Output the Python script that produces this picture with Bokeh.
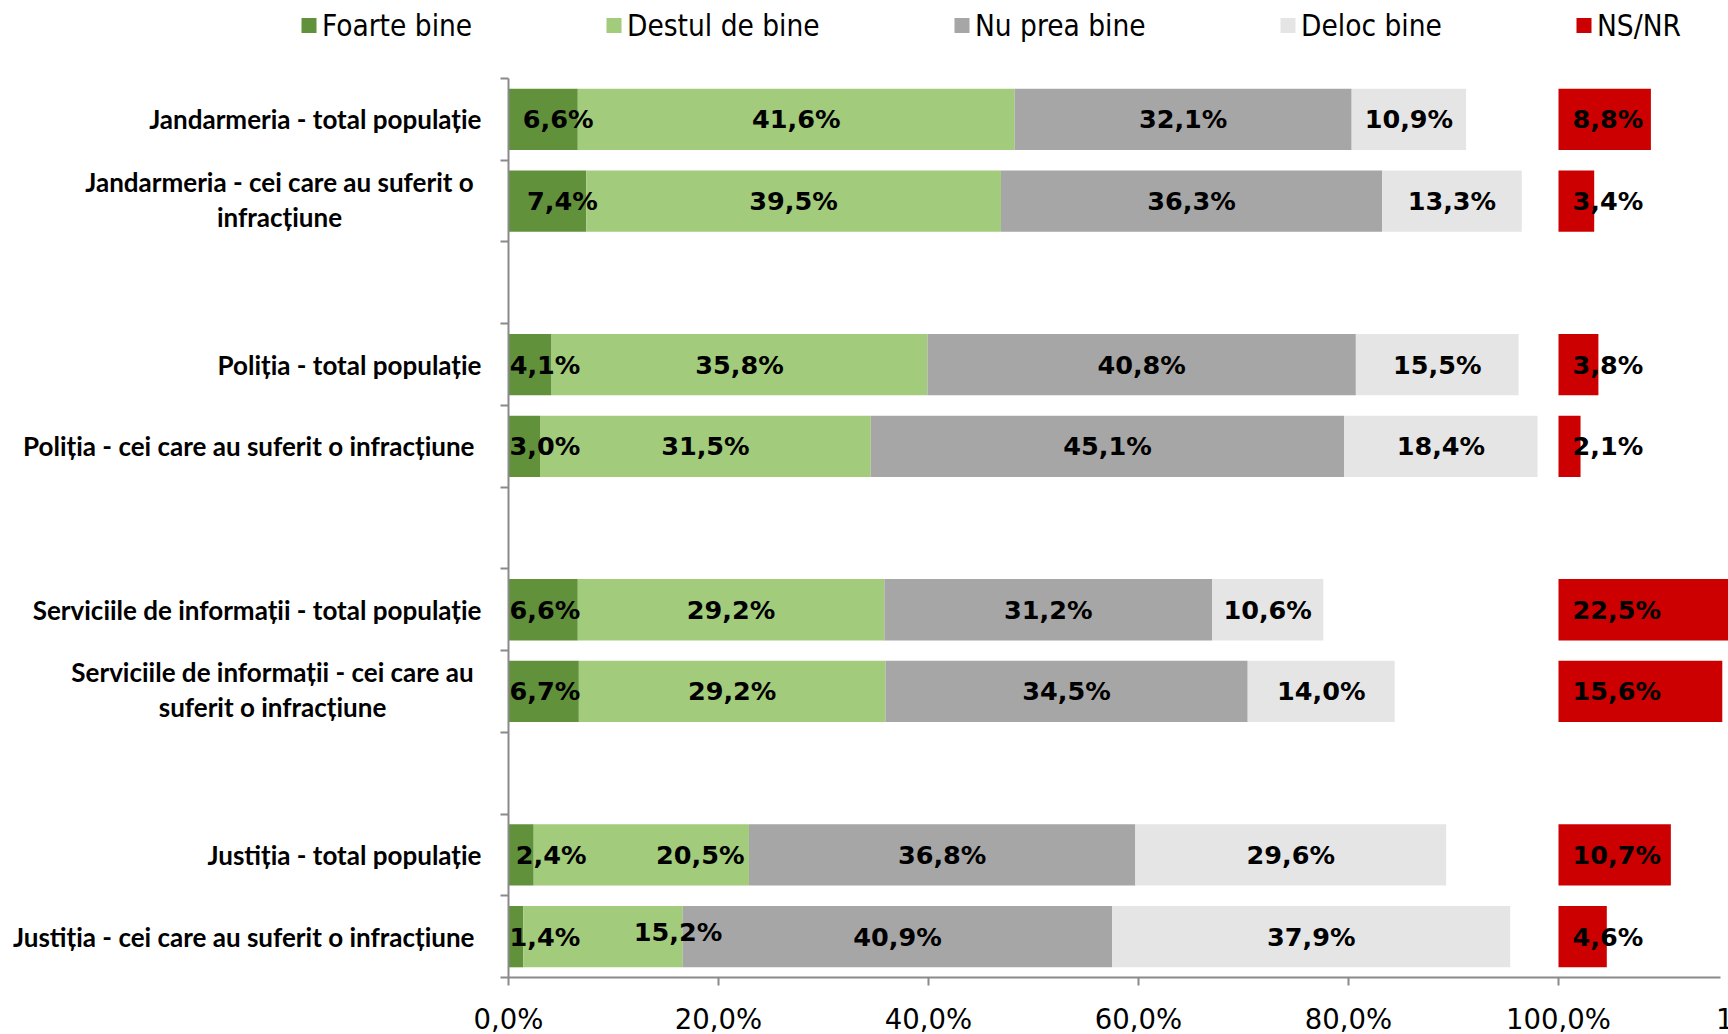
from bokeh.plotting import figure
from bokeh.models import Range1d, FixedTicker, ColumnDataSource, LinearAxis
from bokeh.core.properties import value
from bokeh.embed import file_html
from bokeh.resources import INLINE
import numpy as np

# ---------------- data ----------------
categories = [
    "Jandarmeria - total populație",
    "Jandarmeria - cei care au suferit o\ninfracțiune",
    "Poliția - total populație",
    "Poliția - cei care au suferit o infracțiune",
    "Serviciile de informații - total populație",
    "Serviciile de informații - cei care au\nsuferit o infracțiune",
    "Justiția - total populație",
    "Justiția - cei care au suferit o infracțiune",
]
foarte_bine = [6.6, 7.4, 4.1, 3.0, 6.6, 6.7, 2.4, 1.4]
destul_de_bine = [41.6, 39.5, 35.8, 31.5, 29.2, 29.2, 20.5, 15.2]
nu_prea_bine = [32.1, 36.3, 40.8, 45.1, 31.2, 34.5, 36.8, 40.9]
deloc_bine = [10.9, 13.3, 15.5, 18.4, 10.6, 14.0, 29.6, 37.9]
ns_nr = [8.8, 3.4, 3.8, 2.1, 22.5, 15.6, 10.7, 4.6]
series_names = ["Foarte bine", "Destul de bine", "Nu prea bine", "Deloc bine", "NS/NR"]
x_ticks = [0, 20, 40, 60, 80, 100, 120]

# ---------------- style / layout ----------------
colors = ["#62913B", "#A2CB7C", "#A6A6A6", "#E5E5E5", "#CC0000"]
AXIS_COLOR = "#8A8A8A"
LABEL_FONT = value("DejaVu Sans")
CAT_FONT = value("Lato")
LEG_FONT = value("DejaVu Sans Condensed")

W, H = 1728, 1034
PX0 = 508.0          # canvas x of 0 %
PXPCT = 10.5         # px per percent
TOP = 78.0           # canvas y of first slot boundary
SLOT = 81.73         # px per slot


def fmt(v):
    return f"{v:.1f}".replace(".", ",") + "%"


def text_w(s, size):
    widths = {",": 0.38, "%": 1.002}
    return sum(widths.get(c, 0.696) for c in s) * size


n = len(categories)
slots = [i + i // 2 for i in range(n)]          # one empty slot between pairs
yc = [s + 0.5 for s in slots]
n_slots = slots[-1] + 1

x0 = -PX0 / PXPCT
x1 = (W - PX0) / PXPCT
y_top = -TOP / SLOT
y_bot = (H - TOP) / SLOT

p = figure(width=W, height=H, x_range=Range1d(x0, x1), y_range=Range1d(y_bot, y_top),
           output_backend="svg", toolbar_location=None,
           x_axis_location=None, y_axis_location=None, min_border=0)
p.outline_line_color = None
p.grid.visible = False

# ---- stacked bars ----
stack = [foarte_bine, destul_de_bine, nu_prea_bine, deloc_bine]
LS = 25.5
left = np.zeros(n)
seg_x, seg_y, seg_t, seg_off, seg_dy = [], [], [], [], []
nudge = {(6, 0): (30, 0), (6, 1): (59, 0), (7, 1): (75, -5)}   # hand-moved labels in the original
flush_left = {(4, 0), (5, 0)}                                   # labels flush with the axis
for k, vals in enumerate(stack):
    vals = np.array(vals)
    right = left + vals
    p.hbar(y=yc, left=left, right=right, height=0.75, fill_color=colors[k], line_color=None)
    for i in range(n):
        c = (left[i] + right[i]) / 2
        t = fmt(vals[i])
        if k == 0:
            lim = 1 + text_w(t, LS) / 2
            cpx = lim if (i, k) in flush_left else max(c * PXPCT + 15, lim)
            dx = cpx - c * PXPCT
        else:
            dx = 0
        dx, dy = nudge.get((i, k), (dx, 0))
        seg_x.append(c)
        seg_y.append(yc[i])
        seg_t.append(t)
        seg_off.append(dx)
        seg_dy.append(dy)
    left = right

base = np.full(n, 100.0)
p.hbar(y=yc, left=base, right=base + np.array(ns_nr), height=0.75,
       fill_color=colors[4], line_color=None)

src = ColumnDataSource(dict(x=seg_x, y=seg_y, t=seg_t, xo=seg_off, yo=seg_dy))
p.text(x="x", y="y", text="t", x_offset="xo", y_offset="yo", source=src,
       text_align="center", text_baseline="middle", text_font=LABEL_FONT,
       text_font_style="bold", text_font_size=f"{LS}px", text_color="black")

src2 = ColumnDataSource(dict(x=list(base), y=yc, t=[fmt(v) for v in ns_nr]))
p.text(x="x", y="y", text="t", x_offset=14, source=src2,
       text_align="left", text_baseline="middle", text_font=LABEL_FONT,
       text_font_style="bold", text_font_size=f"{LS}px", text_color="black")

# ---- axes (drawn at fixed data locations) ----
XSTAND = 17
xa = LinearAxis(fixed_location=n_slots, bounds=(0, x1 - 0.75))
xa.ticker = FixedTicker(ticks=x_ticks, minor_ticks=[])
xa.major_label_overrides = {t: fmt(t) for t in x_ticks}
xa.axis_line_color = AXIS_COLOR
xa.axis_line_width = 2
xa.major_tick_line_color = AXIS_COLOR
xa.major_tick_line_width = 2
xa.major_tick_in = 0
xa.major_tick_out = 8
xa.minor_tick_line_color = None
xa.major_label_text_font = "DejaVu Sans"
xa.major_label_text_font_size = "27.5px"
xa.major_label_text_color = "black"
xa.major_label_standoff = XSTAND
p.add_layout(xa, "below")

# last tick label, cut by the chart edge as in the original
p.text(x=[x_ticks[-1]], y=[n_slots], y_offset=8 + XSTAND, text=[fmt(x_ticks[-1])],
       text_align="center", text_baseline="top", text_font=value("DejaVu Sans"),
       text_font_size="27.5px", text_color="black")

ya = LinearAxis(fixed_location=0, bounds=(0, n_slots))
ya.ticker = FixedTicker(ticks=list(range(n_slots + 1)), minor_ticks=[])
ya.major_label_overrides = {t: "" for t in range(n_slots + 1)}
ya.axis_line_color = AXIS_COLOR
ya.axis_line_width = 2
ya.major_tick_line_color = AXIS_COLOR
ya.major_tick_line_width = 2
ya.major_tick_in = 0
ya.major_tick_out = 8
ya.minor_tick_line_color = None
p.add_layout(ya, "left")

# ---- category labels ----
wrap_center = {1: -229, 5: -236}
right_off = {3: -34, 7: -34}
cx, cy, ct, cxo, cyo, ca = [], [], [], [], [], []
for i, cat in enumerate(categories):
    lines = cat.split("\n")
    if len(lines) == 1:
        cx.append(0); cy.append(yc[i]); ct.append(cat); cxo.append(right_off.get(i, -27))
        cyo.append(0); ca.append("right")
    else:
        for j, ln in enumerate(lines):
            cx.append(0); cy.append(yc[i]); ct.append(ln)
            cxo.append(wrap_center[i]); cyo.append(-19 + 35 * j); ca.append("center")
src3 = ColumnDataSource(dict(x=cx, y=cy, t=ct, xo=cxo, yo=cyo, a=ca))
p.text(x="x", y="y", text="t", x_offset="xo", y_offset="yo", text_align="a", source=src3,
       text_baseline="middle", text_font=CAT_FONT, text_font_style="bold",
       text_font_size="26px", text_color="black")

# ---- legend ----
leg_left_px = [301, 606, 954, 1280, 1576]
leg_y = (25 - TOP) / SLOT
lx = [(px + 7.5 - PX0) / PXPCT for px in leg_left_px]
p.scatter(x=lx, y=[leg_y] * 5, marker="square", size=15, fill_color=colors, line_color=None)
p.text(x=lx, y=[leg_y] * 5, x_offset=13, text=series_names, text_align="left",
       text_baseline="middle", text_font=LEG_FONT, text_font_size="29.5px", text_color="black")

open("out.html", "w").write(file_html(p, INLINE))
